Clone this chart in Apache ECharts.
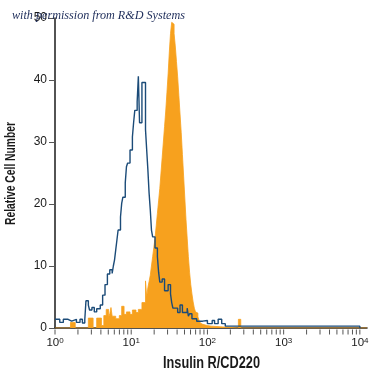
<!DOCTYPE html>
<html><head><meta charset="utf-8">
<script src="https://cdn.jsdelivr.net/npm/echarts@6/dist/echarts.min.js"></script>
<style>html,body{margin:0;padding:0;background:#fff}#c{width:375px;height:375px}</style>
</head><body><div id="c"></div>
<script>
// x in instrument channels: 64 channels per decade, channel 0 = 10^0
const blueCh = [0,4,7,11,14,18,21,23,25,26,28,29,31,33,35,38,40,42,44,46,48,49,50,51,52,53,55,56,57,59,60,61,63,65,66,67,69,70,71,73,76,77,78,79,80,81,82,84,86,87,88,90,92,95,97,98,99,103,105,107,111,112,113,115,119,124,128,132,134,137,140,143,256];
const blueCount = [1.4,0.9,1.4,1.1,1.4,0.9,1.4,0.8,1.3,4.4,3.7,2.9,3.3,2.6,3.1,3.7,5.3,7.0,8.7,9.4,8.8,10.0,11.0,12.6,14.2,15.8,17.9,20.1,21.1,23.4,26.0,26.6,28.7,30.8,33.1,35.1,36.5,40.6,33.1,39.6,32.0,28.7,25.5,21.8,19.1,15.8,14.7,12.9,11.5,9.0,7.4,7.9,6.0,7.0,5.5,4.1,3.2,2.5,3.7,2.5,3.2,1.9,2.3,1.5,1.1,1.2,0.7,1.2,0.7,1.4,0.7,0.3,0];

const orangeCh = [0,13,17,28,32,35,39,41,43,45,46,47,48,51,54,56,58,60,63,65,68,70,73,76,77,78,79,80,81,82,83,84,85,86,87,88,89,90,91,92,93,94,95,96,97,98,99,100,101,102,103,104,105,106,107,108,109,110,111,112,113,114,115,116,117,118,119,120,121,122,123,124,125,126,127,128,129,131,154,156,262];
const orangeCount = [0,0.9,0,1.6,0,1.6,0.4,2.0,3.0,1.7,2.3,3.3,1.9,1.5,2.0,3.5,2.2,2.6,2.2,2.9,2.5,3.0,4.1,7.6,5.0,6.5,7.5,8.5,10,11.5,13,14.5,16.5,18.5,20.5,22.5,25,27.5,30,32.5,35,38,41,44.5,47.5,49.3,49.0,47.5,45.5,43,40.5,37.5,34.5,31.5,28,24.5,21,17.5,14.5,11.5,9,7,5.5,4.2,3.2,2.6,2.4,1.8,1.2,0.8,0.6,0.9,0.5,0.7,0.4,0.6,0.3,0,1.4,0,0];

// axis ticks (intensity values) and labels
const xTickValues = [1,2,3,4,5,6,7,8,9,10,20,30,40,50,60,70,80,90,100,200,300,400,500,600,700,800,900,1000,2000,3000,4000,5000,6000,7000,8000,9000,10000];
const xMajorLabels = {0:'0',64:'1',128:'2',192:'3',256:'4'};
const yTicks = [0,10,20,30,40,50];
const xTitle = 'Insulin R/CD220';
const yTitle = 'Relative Cell Number';
const note = 'with permission from R&D Systems';

const FONT = "'Liberation Sans',Arial,sans-serif";
// condensed look for the axis titles: squeeze regular bold text to the reference width
const mctx = document.createElement('canvas').getContext('2d');
function textW(font, t){ mctx.font = font; return mctx.measureText(t).width; }
const yTitleFont = "bold 14px 'Liberation Sans',Arial,sans-serif";
const xTitleFont = "bold 16px 'Liberation Sans',Arial,sans-serif";
const noteFont = "italic 12.3px 'Liberation Serif','DejaVu Serif',serif";
const ySx = 103 / textW(yTitleFont, yTitle);
const xSx = 97 / textW(xTitleFont, xTitle);
const nSx = 173 / textW(noteFont, note);

const chart = echarts.init(document.getElementById('c'), null, {renderer:'canvas'});
chart.setOption({
  animation:false,
  backgroundColor:'#fff',
  graphic:[
    {type:'text', x:12, y:16, scaleX:nSx, z:100,
      style:{text:note, font:noteFont, fill:'#1e2d5a', align:'left', verticalAlign:'middle', textAlign:'left', textVerticalAlign:'middle'}},
    {type:'text', x:11.5, y:173.5, rotation:Math.PI/2, scaleX:ySx, z:100,
      style:{text:yTitle, font:yTitleFont, fill:'#1a1a1a', align:'center', verticalAlign:'middle', textAlign:'center', textVerticalAlign:'middle'}},
    {type:'text', x:211.5, y:363.5, scaleX:xSx, z:100,
      style:{text:xTitle, font:xTitleFont, fill:'#1a1a1a', align:'center', verticalAlign:'middle', textAlign:'center', textVerticalAlign:'middle'}}
  ],
  grid:{left:55, right:8, top:18, bottom:47},
  xAxis:{type:'value', min:0, max:262, interval:64,
    axisLine:{lineStyle:{color:'#1a1a1a', width:1.5}},
    axisTick:{show:false}, splitLine:{show:false},
    axisLabel:{margin:9, color:'#1a1a1a', fontFamily:FONT, fontSize:11.5,
      formatter:v => (xMajorLabels[v] !== undefined ? '10{s|' + xMajorLabels[v] + '}' : ''),
      rich:{s:{fontSize:8, verticalAlign:'top', fontFamily:FONT, color:'#1a1a1a'}}}},
  yAxis:{type:'value', min:0, max:50, interval:10,
    axisLine:{show:true, lineStyle:{color:'#1a1a1a', width:1.5}},
    axisTick:{show:true, length:6, lineStyle:{color:'#555'}},
    splitLine:{show:false},
    axisLabel:{margin:8, color:'#1a1a1a', fontFamily:FONT, fontSize:12,
      formatter:v => (yTicks.indexOf(v) >= 0 ? String(v) : '')}},
  series:[
    {type:'line', step:'end', showSymbol:false, z:2,
      data:orangeCh.map((c,i)=>[c, orangeCount[i]]),
      lineStyle:{color:'#F7A11E', width:0.8},
      areaStyle:{color:'#F7A11E', opacity:1}},
    {type:'line', step:'end', showSymbol:false, z:3,
      data:blueCh.map((c,i)=>[c, blueCount[i]]),
      lineStyle:{color:'#1b4b78', width:1.4}},
    {type:'custom', z:4, silent:true,
      data:xTickValues.map(v => [64*Math.log10(v)]),
      renderItem:(params, api) => {
        const p = api.coord([api.value(0), 0]);
        return {type:'line', shape:{x1:p[0], y1:p[1]+1.5, x2:p[0], y2:p[1]+6.5},
          style:{stroke:'#555', lineWidth:1}};
      }}
  ]
});
</script></body></html>
